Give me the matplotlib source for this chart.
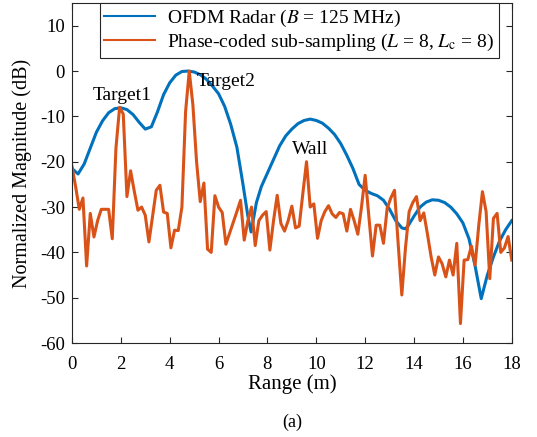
import numpy as np
import matplotlib
matplotlib.use('Agg')
import matplotlib.pyplot as plt

plt.rcParams['font.family'] = ['Liberation Serif', 'DejaVu Serif']
plt.rcParams['mathtext.fontset'] = 'stix'
plt.rcParams['axes.unicode_minus'] = False

## OFDM radar range profile (smooth)
ofdm_x = [0.00, 0.25, 0.50, 0.75, 1.00, 1.25, 1.50, 1.75, 2.00, 2.25,
          2.50, 2.75, 3.00, 3.25, 3.50, 3.75, 4.00, 4.25, 4.50, 4.75,
          5.00, 5.25, 5.50, 5.75, 6.00, 6.25, 6.50, 6.75, 7.00, 7.20,
          7.33, 7.45, 7.55, 7.75, 8.00, 8.25, 8.50, 8.75, 9.00, 9.25,
          9.50, 9.75, 10.00, 10.25, 10.50, 10.75, 11.00, 11.25, 11.50, 11.75,
          12.00, 12.25, 12.50, 12.75, 13.00, 13.25, 13.50, 13.65, 13.75, 14.00,
          14.25, 14.50, 14.75, 15.00, 15.25, 15.50, 15.75, 16.00, 16.25, 16.50,
          16.75, 17.00, 17.25, 17.50, 17.75, 18.00]
ofdm_db = [-21.5, -22.7, -20.5, -17.0, -13.5, -11.0, -9.2, -8.3, -8.1, -8.5,
           -9.6, -11.3, -12.8, -12.3, -9.0, -5.2, -2.6, -0.9, -0.1, 0.0,
           -0.2, -0.8, -1.8, -3.3, -5.0, -7.8, -11.8, -16.8, -25.0, -32.0,
           -35.5, -32.0, -29.0, -25.5, -22.5, -19.5, -16.5, -14.3, -12.8, -11.6,
           -10.9, -10.6, -10.9, -11.5, -12.6, -14.0, -16.0, -18.6, -21.5, -25.0,
           -26.3, -27.0, -27.5, -28.5, -30.5, -33.0, -34.6, -34.8, -34.2, -32.0,
           -30.0, -28.9, -28.4, -28.5, -29.0, -30.0, -31.5, -33.5, -37.0, -43.0,
           -50.2, -45.0, -41.0, -37.5, -35.0, -33.0]

## phase-coded sub-sampling, 0.15 m bins
pc_x = np.arange(121) * 0.15
pc_db = [-21.0, -25.5, -30.5, -28.0, -43.0, -31.4, -36.6, -33.0, -30.5, -30.5,
         -30.5, -37.0, -17.0, -8.0, -9.5, -27.7, -22.0, -26.5, -30.7, -30.0,
         -31.8, -37.7, -32.0, -26.3, -25.2, -31.1, -31.4, -39.0, -35.1, -35.2,
         -30.0, -9.0, 0.0, -7.5, -20.0, -28.8, -24.7, -39.3, -40.0, -27.5,
         -30.0, -31.2, -38.2, -35.8, -33.4, -31.0, -28.5, -37.3, -33.0, -30.0,
         -38.5, -33.0, -31.8, -31.0, -39.5, -33.0, -27.4, -33.6, -35.3, -33.0,
         -29.8, -34.6, -34.2, -27.0, -20.0, -30.0, -29.3, -36.9, -33.0, -31.0,
         -29.7, -31.5, -32.3, -31.2, -31.5, -35.3, -30.5, -33.0, -36.0, -30.0,
         -23.0, -32.0, -40.8, -34.0, -34.0, -38.0, -30.3, -28.0, -26.3, -38.0,
         -49.4, -39.0, -31.0, -29.0, -27.7, -33.0, -31.3, -36.0, -41.0, -45.0,
         -41.0, -42.5, -45.4, -41.7, -45.0, -38.0, -55.7, -41.7, -41.6, -38.6,
         -42.8, -34.0, -26.6, -31.0, -45.8, -32.5, -31.4, -40.0, -39.0, -36.5,
         -41.7]

fig = plt.figure(figsize=(5.37, 4.37), dpi=100)
ax = fig.add_axes([0.134, 0.215, 0.819, 0.778])

ax.plot(ofdm_x, ofdm_db, color='#0072BD', lw=2.2,
        label=r'OFDM Radar ($B$ = 125 MHz)')
ax.plot(pc_x, pc_db, color='#D95319', lw=2.2,
        label=r'Phase-coded sub-sampling ($L$ = 8, $L_{\mathrm{c}}$ = 8)')

ax.text(2.05, -5.3, 'Target1', fontsize=14, ha='center', va='center')
ax.text(5.1, -2.4, 'Target2', fontsize=14, ha='left', va='center')
ax.text(9.75, -17.4, 'Wall', fontsize=14, ha='center', va='center')

ax.set_xlim(0, 18)
ax.set_ylim(-60, 15)
ax.set_xticks(np.arange(0, 19, 2))
ax.set_yticks(np.arange(-60, 11, 10))
ax.tick_params(direction='in', top=True, right=True, labelsize=13.5,
               color='#262626', length=4)
ax.tick_params(axis='x', pad=9)
ax.tick_params(axis='y', pad=5)
for s in ax.spines.values():
    s.set_color('#262626')
    s.set_linewidth(0.8)

ax.set_xlabel('Range (m)', fontsize=15, labelpad=1)
ax.set_ylabel('Normalized Magnitude (dB)', fontsize=14.5, labelpad=6)

leg = ax.legend(loc='upper right', bbox_to_anchor=(0.97, 1.0), fontsize=14,
                fancybox=False, framealpha=1, edgecolor='#262626',
                borderpad=0.25, labelspacing=0.15, handlelength=2.6,
                handletextpad=0.6, borderaxespad=0.0)
leg.get_frame().set_linewidth(0.8)
for ln in leg.get_lines():
    ln.set_linewidth(1.5)

fig.text(0.544, 0.034, '(a)', fontsize=13, ha='center', va='center')

fig.savefig('out.png', dpi=100)
